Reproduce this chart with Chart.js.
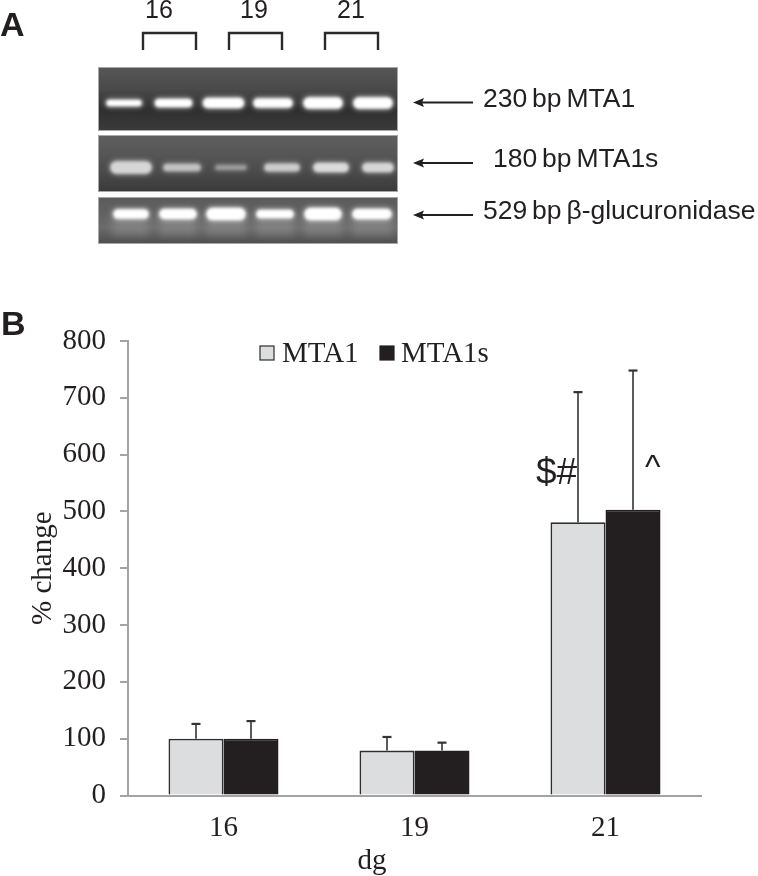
<!DOCTYPE html>
<html>
<head>
<meta charset="utf-8">
<title>MTA1 and MTA1s</title>
<script src="https://cdn.jsdelivr.net/npm/chart.js@4"></script>
<style>
html, body { margin: 0; padding: 0; background: #fff; }
#wrap { position: relative; width: 758px; height: 876px; overflow: hidden; }
</style>
</head>
<body>
<div id="wrap"><canvas id="barChart" width="758" height="876"></canvas></div>
<script>
var categories = ['16', '19', '21'];
var seriesNames = ['MTA1', 'MTA1s'];
var mta1Values = [100, 79, 481];
var mta1sValues = [100, 79, 503];
var mta1ErrorTops = [126, 103, 710];
var mta1sErrorTops = [131, 93, 748];
var yTickLabels = [0, 100, 200, 300, 400, 500, 600, 700, 800];

var serif = '"Liberation Serif", serif';
var sans = '"Liberation Sans", sans-serif';
var ink = '#231f20';
var axisGrey = '#a3a3a3';

// gel strips of panel A: bands are [x centre, half width, half height, brightness]
var gels = [
	{ top: 68, height: 62, bandY: 103, stops: ['#565656', '#4a4a4a', '#2f2f2f', '#3a3a3a'], label: '230 bp MTA1', labelX: 483, arrowY: 102.5,
		bands: [[124, 19, 3, 1], [173.5, 20, 4, 1], [223.5, 22, 5, 1], [273, 21, 4.5, 1], [323, 21, 5.5, 1], [373, 21, 5.5, 1]] },
	{ top: 136, height: 55, bandY: 167.5, stops: ['#5e5e5e', '#565656', '#4a4a4a', '#3a3a3a'], label: '180 bp MTA1s', labelX: 493, arrowY: 163,
		bands: [[131, 22, 6, 0.84], [182, 20, 3.5, 0.76], [231, 17, 2.2, 0.62], [282, 19, 3.8, 0.8], [331, 19, 4.5, 0.86], [378, 17, 4.5, 0.84]] },
	{ top: 198, height: 45, bandY: 214, glow: true, stops: ['#5c5c5c', '#626262', '#6a6a6a', '#4e4e4e'], label: '529 bp \u03b2-glucuronidase', labelX: 483, arrowY: 215,
		bands: [[131, 19, 4.5, 1], [178, 20, 5, 1], [226, 21, 6, 1], [275, 20, 4, 1], [323, 20, 6, 1], [372, 21, 5, 1]] }
];
var brackets = [[143, 196, '16', 159], [229, 282, '19', 254], [325, 378, '21', 351]];

function drawPanelA(ctx) {
	ctx.save();
	ctx.fillStyle = ink;
	ctx.textBaseline = 'middle';
	ctx.textAlign = 'left';
	ctx.font = 'bold 34px ' + sans;
	ctx.fillText('A', 0, 27);
	ctx.fillText('B', 1, 326);

	ctx.font = '25px ' + sans;
	ctx.textAlign = 'center';
	brackets.forEach(function(b) {
		ctx.fillText(b[2], b[3], 11);
		ctx.strokeStyle = '#2a2a2a';
		ctx.lineWidth = 2.4;
		ctx.beginPath();
		ctx.moveTo(b[0], 50);
		ctx.lineTo(b[0], 33);
		ctx.lineTo(b[1], 33);
		ctx.lineTo(b[1], 50);
		ctx.stroke();
	});

	gels.forEach(function(g) {
		ctx.save();
		ctx.beginPath();
		ctx.rect(99, g.top, 298, g.height);
		ctx.clip();
		var grad = ctx.createLinearGradient(0, g.top, 0, g.top + g.height);
		g.stops.forEach(function(c, i) {
			grad.addColorStop(i / (g.stops.length - 1), c);
		});
		ctx.fillStyle = grad;
		ctx.fillRect(99, g.top, 298, g.height);
		g.bands.forEach(function(b) {
			var v = Math.round(255 * b[3]);
			if (g.glow) {
				ctx.filter = 'blur(4px)';
				ctx.fillStyle = 'rgba(170,170,170,0.35)';
				ctx.fillRect(b[0] - b[1], g.bandY, b[1] * 2, 22);
			}
			ctx.filter = 'blur(2.5px)';
			ctx.fillStyle = 'rgba(' + v + ',' + v + ',' + v + ',0.5)';
			ctx.beginPath();
			ctx.roundRect(b[0] - b[1], g.bandY - b[2] - 1.5, b[1] * 2, b[2] * 2 + 3, b[2] + 1.5);
			ctx.fill();
			ctx.filter = 'blur(1.5px)';
			ctx.fillStyle = 'rgb(' + v + ',' + v + ',' + v + ')';
			ctx.beginPath();
			ctx.roundRect(b[0] - b[1] + 1.5, g.bandY - b[2], b[1] * 2 - 3, b[2] * 2, b[2]);
			ctx.fill();
		});
		ctx.filter = 'none';
		ctx.restore();
		ctx.strokeStyle = '#a8a8a8';
		ctx.lineWidth = 1;
		ctx.strokeRect(98.5, g.top - 0.5, 299, g.height + 1);

		// arrow and label
		ctx.strokeStyle = ink;
		ctx.fillStyle = ink;
		ctx.lineWidth = 2;
		ctx.beginPath();
		ctx.moveTo(420, g.arrowY);
		ctx.lineTo(473, g.arrowY);
		ctx.stroke();
		ctx.beginPath();
		ctx.moveTo(413, g.arrowY);
		ctx.lineTo(424, g.arrowY - 4.5);
		ctx.lineTo(422, g.arrowY);
		ctx.lineTo(424, g.arrowY + 4.5);
		ctx.closePath();
		ctx.fill();
		ctx.font = '26.5px ' + sans;
		ctx.wordSpacing = '-2.5px';
		ctx.textAlign = 'left';
		ctx.fillText(g.label, g.labelX, g.arrowY - 3);
		ctx.wordSpacing = '0px';
	});
	ctx.restore();
}

function drawLegend(ctx, chart) {
	var items = [[260, 282], [380, 401]];
	ctx.save();
	ctx.font = '29px ' + serif;
	ctx.textBaseline = 'middle';
	ctx.textAlign = 'left';
	items.forEach(function(it, i) {
		var ds = chart.data.datasets[i];
		ctx.fillStyle = ds.backgroundColor;
		ctx.strokeStyle = ds.borderColor;
		ctx.lineWidth = 1.2;
		ctx.fillRect(it[0], 346, 14, 14);
		ctx.strokeRect(it[0], 346, 14, 14);
		ctx.fillStyle = ink;
		ctx.fillText(ds.label, it[1], 354);
	});
	ctx.restore();
}

var errorTops = [mta1ErrorTops, mta1sErrorTops];

var figurePlugin = {
	id: 'figure',
	beforeDraw: function(chart) {
		drawPanelA(chart.ctx);
	},
	afterDatasetsDraw: function(chart) {
		var ctx = chart.ctx;
		var y = chart.scales.y;
		ctx.save();
		ctx.strokeStyle = '#333';
		ctx.lineWidth = 1.6;
		errorTops.forEach(function(tops, i) {
			var meta = chart.getDatasetMeta(i);
			tops.forEach(function(top, j) {
				var bar = meta.data[j];
				var py = y.getPixelForValue(top);
				ctx.beginPath();
				ctx.moveTo(bar.x, bar.y);
				ctx.lineTo(bar.x, py);
				ctx.stroke();
				ctx.lineWidth = 2.2;
				ctx.beginPath();
				ctx.moveTo(bar.x - 4.5, py);
				ctx.lineTo(bar.x + 4.5, py);
				ctx.stroke();
				ctx.lineWidth = 1.6;
			});
		});
		ctx.restore();

		drawLegend(ctx, chart);

		ctx.save();
		ctx.fillStyle = ink;
		ctx.textBaseline = 'middle';
		ctx.textAlign = 'left';
		ctx.font = '37px ' + sans;
		var bar21 = chart.getDatasetMeta(0).data[2];
		ctx.fillText('$#', bar21.x - 42, y.getPixelForValue(567));
		ctx.font = '33px ' + sans;
		var bar21s = chart.getDatasetMeta(1).data[2];
		ctx.fillText('^', bar21s.x + 12, y.getPixelForValue(575));
		ctx.font = '29px ' + serif;
		ctx.textAlign = 'center';
		ctx.fillText('dg', 372, 861);
		ctx.restore();
	}
};

new Chart(document.getElementById('barChart'), {
	type: 'bar',
	plugins: [figurePlugin],
	data: {
		labels: categories,
		datasets: [
			{ label: seriesNames[0], data: mta1Values, backgroundColor: '#dcddde', borderColor: '#2e2e2e', borderWidth: 1.8 },
			{ label: seriesNames[1], data: mta1sValues, backgroundColor: ink, borderColor: ink, borderWidth: 1.5 }
		]
	},
	options: {
		responsive: false,
		animation: false,
		layout: { padding: { top: 341, right: 57, left: 0, bottom: 0 } },
		categoryPercentage: 0.576,
		barPercentage: 1,
		plugins: {
			legend: { display: false },
			tooltip: { enabled: false }
		},
		scales: {
			x: {
				afterFit: function(s) { s.height = 80.5; },
				grid: { display: false },
				border: { color: axisGrey, width: 2 },
				ticks: { color: ink, padding: 7, font: { family: serif, size: 29 } }
			},
			y: {
				min: 0,
				max: 800,
				afterFit: function(s) { s.width = 128; },
				afterBuildTicks: function(s) {
					s.ticks = yTickLabels.map(function(v) { return { value: v }; });
				},
				grid: { drawOnChartArea: false, color: axisGrey, lineWidth: 2, tickLength: 8 },
				border: { color: axisGrey, width: 2 },
				ticks: { color: ink, padding: 14, font: { family: serif, size: 29 } },
				title: { display: true, text: '% change', color: ink, font: { family: serif, size: 29 }, padding: { top: 26, bottom: 0 } }
			}
		}
	}
});
</script>
</body>
</html>
